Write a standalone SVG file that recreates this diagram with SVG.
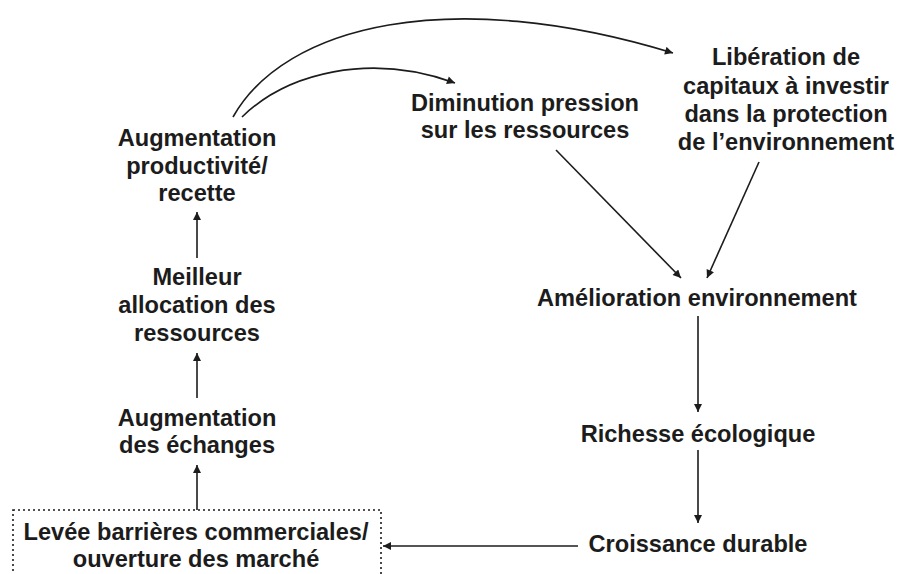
<svg xmlns="http://www.w3.org/2000/svg" width="899" height="574" viewBox="0 0 899 574">
<style>
text{font-family:"Liberation Sans",Arial,Helvetica,sans-serif;font-weight:bold;font-size:23.6px;fill:#1c1c1c;text-anchor:middle}
.c{fill:none;stroke:#1c1c1c;stroke-width:1.6}
.box{fill:none;stroke:#1c1c1c;stroke-width:1.6;stroke-dasharray:2 3}
</style>
<defs>
<marker id="ah" viewBox="0 0 10 10" refX="10" refY="5" markerWidth="9" markerHeight="8" markerUnits="userSpaceOnUse" orient="auto">
<path d="M0,0 L10,5 L0,10 Z" fill="#1c1c1c"/>
</marker>
</defs>
<rect width="899" height="574" fill="#ffffff"/>
<g id="n-augprod"><text x="197" y="146">Augmentation</text><text x="197" y="173.5">productivité/</text><text x="197" y="201">recette</text></g>
<g id="n-meilleur"><text x="197" y="285">Meilleur</text><text x="197" y="313">allocation des</text><text x="197" y="341">ressources</text></g>
<g id="n-augech"><text x="197" y="426">Augmentation</text><text x="197" y="453">des échanges</text></g>
<g id="n-levee"><rect class="box" x="13" y="510" width="368" height="80"/><text x="196" y="540">Levée barrières commerciales/</text><text x="196" y="567">ouverture des marché</text></g>
<g id="n-dimin"><text x="525" y="111">Diminution pression</text><text x="525" y="138">sur les ressources</text></g>
<g id="n-liber"><text x="786" y="65">Libération de</text><text x="786" y="93.5">capitaux à investir</text><text x="786" y="122">dans la protection</text><text x="786" y="150">de l’environnement</text></g>
<g id="n-amel"><text x="697" y="306">Amélioration environnement</text></g>
<g id="n-rich"><text x="698" y="442">Richesse écologique</text></g>
<g id="n-crois"><text x="698" y="552">Croissance durable</text></g>
<g id="connectors">
<path class="c" d="M197,258 L197,212" marker-end="url(#ah)"/>
<path class="c" d="M197,398 L197,353" marker-end="url(#ah)"/>
<path class="c" d="M197,510 L197,465" marker-end="url(#ah)"/>
<path class="c" d="M578,546 L383,546" marker-end="url(#ah)"/>
<path class="c" d="M698,316 L698,412" marker-end="url(#ah)"/>
<path class="c" d="M698,450 L698,523" marker-end="url(#ah)"/>
<path class="c" d="M556,150 L681,278" marker-end="url(#ah)"/>
<path class="c" d="M759,162 L707,278" marker-end="url(#ah)"/>
<path class="c" d="M242,117 C287,73 370,52 455,83" marker-end="url(#ah)"/>
<path class="c" d="M233,117 C285,25 450,-15 673,53" marker-end="url(#ah)"/>
</g>
</svg>
